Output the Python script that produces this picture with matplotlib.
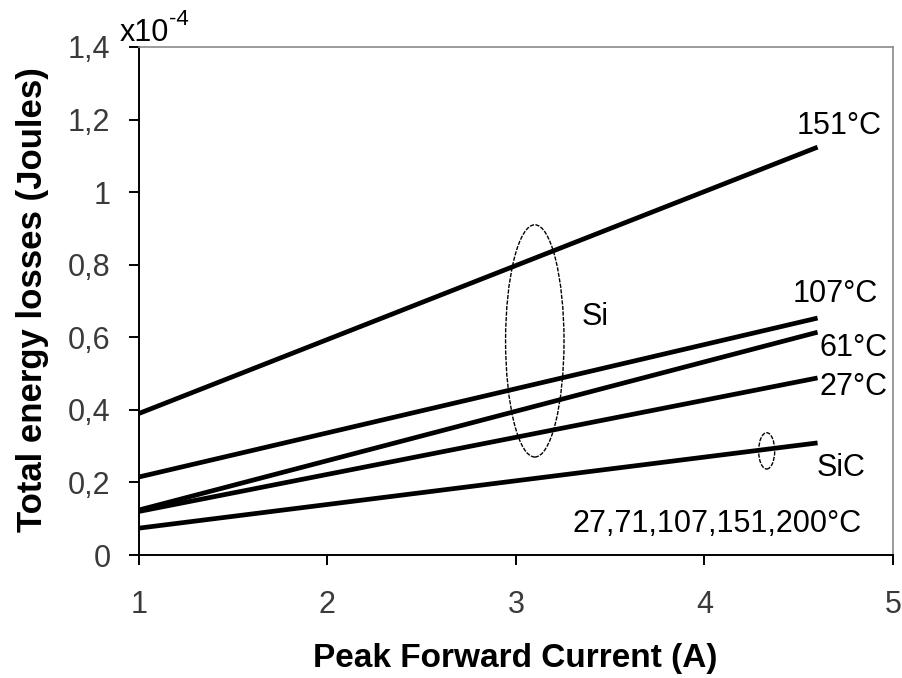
import numpy as np
import matplotlib
matplotlib.use("Agg")
import matplotlib.pyplot as plt
from matplotlib.patches import Ellipse

plt.rcParams["font.family"] = ["Liberation Sans", "DejaVu Sans"]

# current range of the lines (A)
current = [1.0, 4.6]

# total energy losses, x1e-4 J, value at 1 A and at 4.6 A
si_151 = [0.39, 1.124]
si_107 = [0.215, 0.653]
si_61 = [0.124, 0.614]
si_27 = [0.12, 0.488]
sic_all = [0.074, 0.309]

series = [si_151, si_107, si_61, si_27, sic_all]

yticks = [0, 0.2, 0.4, 0.6, 0.8, 1.0, 1.2, 1.4]
ytick_labels = ["0", "0,2", "0,4", "0,6", "0,8", "1", "1,2", "1,4"]
xticks = [1, 2, 3, 4, 5]

fig = plt.figure(figsize=(9.02, 6.78), dpi=100)
ax = fig.add_axes([0.154, 0.1814, 0.836, 0.7493])

for s in series:
    ax.plot(current, s, color="black", lw=3.4, solid_capstyle="butt")

ax.set_xlim(1, 5)
ax.set_ylim(0, 1.4)
ax.set_xticks(xticks)
ax.set_xticklabels([str(x) for x in xticks])
ax.set_yticks(yticks)
ax.set_yticklabels(ytick_labels)
ax.tick_params(direction="out", length=7, width=1.4, labelsize=22,
               labelcolor="#3a3a3a")
ax.tick_params(axis="x", pad=18)
ax.tick_params(axis="y", pad=13.5)

for side in ["left", "bottom"]:
    ax.spines[side].set_linewidth(1.4)
    ax.spines[side].set_color("black")
for side in ["top", "right"]:
    ax.spines[side].set_linewidth(1.2)
    ax.spines[side].set_color("#8a8a8a")

fig.text(0.571, 11 / 678, "Peak Forward Current (A)", fontsize=24,
         fontweight="bold", ha="center", va="baseline")
fig.text(0.0355, 0.5575, "Total energy losses (Joules)", fontsize=25,
         fontweight="bold", rotation=90, ha="center", va="center")

# multiplier at the top of the y axis
fig.text(120 / 902, 1 - 41 / 678, "x10", fontsize=22, ha="left", va="baseline")
fig.text(169 / 902, 1 - 25 / 678, "-4", fontsize=16, ha="left", va="baseline")

# group ellipses
ax.add_patch(Ellipse((3.1, 0.59), 0.31, 0.64, fill=False, lw=1.0,
                     ls=(0, (3, 1)), color="black"))
ax.add_patch(Ellipse((4.33, 0.287), 0.085, 0.10, fill=False, lw=1.0,
                     ls=(0, (3, 1)), color="black"))

fs = 22
ax.text(4.94, 1.182, "151°C", fontsize=fs, ha="right", va="center")
ax.text(4.92, 0.719, "107°C", fontsize=fs, ha="right", va="center")
ax.text(4.97, 0.570, "61°C", fontsize=fs, ha="right", va="center")
ax.text(4.97, 0.463, "27°C", fontsize=fs, ha="right", va="center")
ax.text(3.42, 0.656, "Si", fontsize=fs, ha="center", va="center")
ax.text(4.597, 0.24, "SiC", fontsize=fs, ha="left", va="center")
ax.text(4.835, 0.085, "27,71,107,151,200°C", fontsize=fs, ha="right", va="center")

fig.savefig("out.png", dpi=100, facecolor="white")
